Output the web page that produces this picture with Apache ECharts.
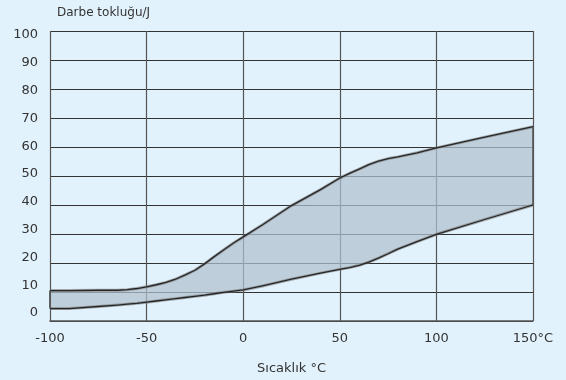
<!DOCTYPE html>
<html>
<head>
<meta charset="utf-8">
<script src="https://cdn.jsdelivr.net/npm/echarts@6/dist/echarts.min.js"></script>
<style>
html,body{margin:0;padding:0;background:#e1f2fc;}
#c{width:566px;height:380px;}
</style>
</head>
<body>
<div id="c"></div>
<script>
// Data
var temps = [-100, -90, -75, -65, -60, -55, -50, -45, -40, -35, -30, -25, -20, -15, -10, -5, 0, 10, 25, 40, 50, 55, 60, 65, 70, 75, 80, 90, 100, 125, 150];
var upper = [10.5, 10.5, 10.6, 10.6, 10.8, 11.2, 11.8, 12.5, 13.3, 14.4, 15.9, 17.5, 19.7, 22.2, 24.6, 26.9, 29.0, 33.2, 39.8, 45.3, 49.3, 50.9, 52.4, 53.9, 55.1, 56.0, 56.6, 58.0, 59.7, 63.4, 67.0];
var lower = [4.3, 4.3, 5.0, 5.5, 5.8, 6.1, 6.5, 6.9, 7.3, 7.7, 8.1, 8.5, 8.9, 9.4, 9.9, 10.3, 10.7, 12.1, 14.4, 16.5, 17.8, 18.4, 19.2, 20.3, 21.7, 23.2, 24.8, 27.4, 29.9, 35.0, 40.0];
var yTicks = [0, 10, 20, 30, 40, 50, 60, 70, 80, 90, 100];
var xTicks = [-100, -50, 0, 50, 100, 150];
var yTitle = 'Darbe tokluğu/J';
var xTitle = 'Sıcaklık °C';
var xUnit = '°C';

var FONT = 'DejaVu Sans';

function renderBand(params, api) {
  var up = temps.map(function (t, i) { return api.coord([t, upper[i]]); });
  var lo = temps.map(function (t, i) { return api.coord([t, lower[i]]); });
  var poly = up.concat(lo.slice().reverse());
  var n = temps.length - 1;
  return {
    type: 'group',
    children: [
      {type: 'polygon', shape: {points: poly}, style: {fill: 'rgba(176,192,207,0.72)', stroke: null}},
      {type: 'polyline', shape: {points: [lo[0], up[0]]}, style: {stroke: '#444', lineWidth: 1.6, fill: null}},
      {type: 'polyline', shape: {points: [lo[n], up[n]]}, style: {stroke: '#555', lineWidth: 1.6, fill: null}},
      {type: 'polyline', shape: {points: up}, style: {stroke: 'rgba(120,120,120,0.6)', lineWidth: 3, fill: null, lineJoin: 'round'}},
      {type: 'polyline', shape: {points: lo}, style: {stroke: 'rgba(120,120,120,0.6)', lineWidth: 3, fill: null, lineJoin: 'round'}},
      {type: 'polyline', shape: {points: up}, style: {stroke: '#262626', lineWidth: 1.3, fill: null, lineJoin: 'round'}},
      {type: 'polyline', shape: {points: lo}, style: {stroke: '#262626', lineWidth: 1.3, fill: null, lineJoin: 'round'}}
    ]
  };
}

var chart = echarts.init(document.getElementById('c'), null, {renderer: 'canvas'});
chart.setOption({
  backgroundColor: '#e1f2fc',
  animation: false,
  title: {
    text: yTitle, left: 52, top: 2,
    textStyle: {fontFamily: FONT, fontSize: 12, fontWeight: 'normal', color: '#333'}
  },
  grid: [
    {left: 50, right: 33, top: 31, bottom: 56},
    {left: 50, right: 33, top: 35, bottom: 67}
  ],
  xAxis: [
    {
      type: 'value', gridIndex: 0, min: xTicks[0], max: xTicks[xTicks.length - 1], interval: 50,
      axisLine: {show: true, lineStyle: {color: '#555', width: 1.5}},
      axisTick: {show: false},
      splitLine: {show: true, lineStyle: {color: '#555', width: 1.2}},
      axisLabel: {
        margin: 11, fontFamily: FONT, fontSize: 13, color: '#333',
        formatter: function (v) { return v === xTicks[xTicks.length - 1] ? v + xUnit : String(v); }
      },
      name: xTitle, nameLocation: 'middle', nameGap: 41,
      nameTextStyle: {fontFamily: FONT, fontSize: 13, color: '#333'}
    },
    {
      type: 'value', gridIndex: 1, min: -100, max: 150, show: false
    }
  ],
  yAxis: [
    {
      type: 'value', gridIndex: 0, min: 0, max: 100, interval: 10,
      axisLine: {show: false}, axisTick: {show: false}, axisLabel: {show: false},
      splitLine: {show: true, lineStyle: {color: '#333', width: 1.2}}
    },
    {
      type: 'value', gridIndex: 1, min: yTicks[0], max: yTicks[yTicks.length - 1], interval: 10,
      axisLine: {show: false}, axisTick: {show: false}, splitLine: {show: false},
      axisLabel: {margin: 12, fontFamily: FONT, fontSize: 13, color: '#333'}
    }
  ],
  series: [
    {
      type: 'custom', xAxisIndex: 0, yAxisIndex: 0,
      data: [[temps[0], lower[0]]],
      renderItem: renderBand,
      clip: false
    }
  ]
});
</script>
</body>
</html>
